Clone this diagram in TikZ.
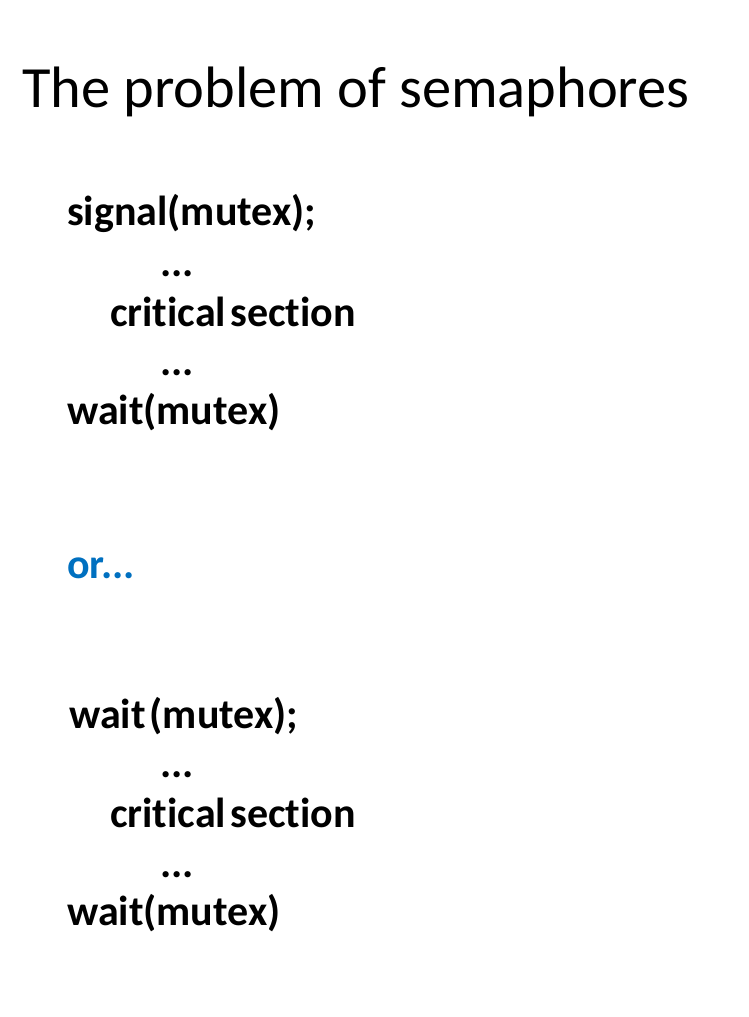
\documentclass[tikz,border=0pt]{standalone}
\usepackage{fontspec}
\setmainfont{Carlito}[Ligatures={NoCommon}]
\definecolor{orblue}{HTML}{0070C0}
\begin{document}
\begin{tikzpicture}[x=1pt,y=-1pt,
  title/.style={anchor=base west,inner sep=0pt,font=\fontsize{58.4}{64}\selectfont},
  code/.style={anchor=base west,inner sep=0pt,font=\fontsize{42}{48}\selectfont\bfseries},
  orline/.style={code,text=orblue}]
\useasboundingbox[fill=white] (0,0) rectangle (748,1017);
\node[title] (t) at (22,107) {The problem of semaphores};
\node[code] (a1) at (67,225) {signal(mutex);};
\node[code] (a2) at (160,276) {...};
\node[code] (a3) at (110,326) {critical\hspace{0.1em}section};
\node[code] (a4) at (160,375) {...};
\node[code] (a5) at (67,424) {wait(mutex)};
\node[orline] (or) at (67,578) {or...};
\node[code] (b1) at (69,728) {wait\hspace{0.1em}(mutex);};
\node[code] (b2) at (160,777) {...};
\node[code] (b3) at (110,827) {critical\hspace{0.1em}section};
\node[code] (b4) at (160,877) {...};
\node[code] (b5) at (67,925) {wait(mutex)};
\end{tikzpicture}
\end{document}
